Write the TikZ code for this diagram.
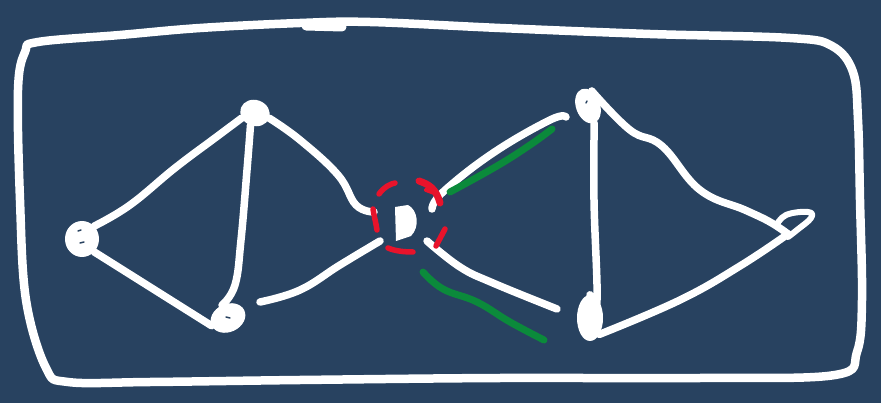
\documentclass[tikz,border=0pt]{standalone}
\usetikzlibrary{shapes.geometric}
\definecolor{bg}{HTML}{284260}
\definecolor{redpen}{HTML}{E8132B}
\definecolor{greenpen}{HTML}{0B8A3B}
\tikzset{
  stroke/.style={draw=white, line width=7.5pt, line cap=round, line join=round},
  gstroke/.style={draw=greenpen, line width=7pt, line cap=round, line join=round},
  rstroke/.style={draw=redpen, line width=5.5pt, line cap=round, line join=round},
  blob/.style={ellipse, fill=white, inner sep=0pt},
  hole/.style={draw=bg, line width=1.5pt, line cap=round}
}
\begin{document}
\begin{tikzpicture}[x=1pt,y=-1pt]
\fill[bg] (0,0) rectangle (881,403);
\useasboundingbox (0,0) rectangle (881,403);

% outer hand-drawn frame
\draw[stroke, line width=8.5pt] plot[smooth cycle, tension=0.6] coordinates {
 (38,42) (120,35) (200,28) (300,23) (370,22) (500,28) (650,34) (790,38)
 (832,46) (853,72) (858,120) (860,200) (862,300) (857,352) (835,375)
 (700,378) (500,378) (300,380) (150,382) (68,382) (46,368) (26,300)
 (20,200) (18,90) (25,52)};
\draw[stroke, line width=9pt] (306,26) -- (342,27);

% nodes (scribbled blobs)
\node[blob, minimum width=34pt, minimum height=36pt] (L1) at (82,239) {};
\node[blob, minimum width=30pt, minimum height=26pt, rotate=-20] (L2) at (255,113) {};
\node[blob, minimum width=36pt, minimum height=28pt, rotate=25] (L3) at (228,318) {};
\node[blob, minimum width=24pt, minimum height=36pt, rotate=20] (R1) at (588,106) {};
\node[blob, minimum width=26pt, minimum height=46pt] (R2) at (590,318) {};
\fill[white] (395,207) -- (408,205) .. controls (418,210) and (420,227) .. (411,236) -- (396,241) -- cycle;
\coordinate (C) at (406,222);
\draw[hole] (78,231) -- (81,230) (80,243) -- (84,242);
\draw[hole] (586,103) -- (587,101);
\draw[hole] (226,317) -- (230,318);

% loop node on the right
\coordinate (R3) at (788,234);
\draw[stroke, line width=6pt] plot[smooth, tension=0.7] coordinates {
 (776,226) (786,215) (808,212) (811,218) (797,230) (788,237)};

% connector end points
\coordinate (l2c) at (374,212);
\coordinate (l3c) at (380,241);
\coordinate (cr1) at (432,209);
\coordinate (cr2) at (427,241);
\coordinate (r1e) at (566,117);
\coordinate (r2e) at (557,309);

% left triangle
\draw[stroke] plot[smooth, tension=0.7] coordinates {(L1.north east) (130,205) (175,168) (215,138) (L2.south west)};
\draw[stroke] (L1.south east) -- (L3.west);
\draw[stroke] plot[smooth, tension=0.7] coordinates {(L2.south) (247,170) (241,240) (235,285) (L3.north)};
\draw[stroke] plot[smooth, tension=0.7] coordinates {(L2.east) (300,140) (338,175) (356,205) (l2c)};
\draw[stroke] plot[smooth, tension=0.7] coordinates {(260,302) (300,290) (340,265) (l3c)};

% right triangle
\draw[stroke] plot[smooth, tension=0.7] coordinates {(R1.south) (594,200) (597,300) (R2.north)};
\draw[stroke] plot[smooth, tension=0.7] coordinates {(R1.north east) (630,130) (662,146) (700,190) (745,210) (770,222) (R3)};
\draw[stroke] plot[smooth, tension=0.7] coordinates {(R2.south east) (680,300) (740,266) (R3)};
\draw[stroke] plot[smooth, tension=0.7] coordinates {(cr1) (443,192) (493,153) (550,120) (r1e)};
\draw[stroke] plot[smooth, tension=0.7] coordinates {(cr2) (460,267) (493,283) (r2e)};

% green highlights
\draw[gstroke] plot[smooth, tension=0.7] coordinates {(450,192) (497,166) (530,145) (552,129)};
\draw[gstroke] plot[smooth, tension=0.7] coordinates {(423,272) (443,289) (477,302) (510,322) (544,340)};

% red dashed circle round the centre
\draw[rstroke] (379,194) .. controls (384,187) and (390,184) .. (395,183);
\draw[rstroke, line width=7pt] (419,181) .. controls (428,184) and (436,188) .. (440,203);
\draw[rstroke, line width=4pt] (426,190) -- (437,194);
\draw[rstroke] (373,209) .. controls (374,216) and (376,223) .. (377,230);
\draw[rstroke] (445,229) -- (436,246);
\draw[rstroke] (388,248) .. controls (395,251) and (404,252) .. (413,252);
\end{tikzpicture}
\end{document}
